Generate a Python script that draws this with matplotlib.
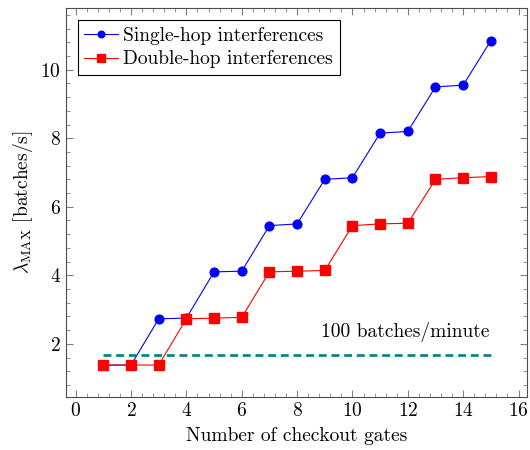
import numpy as np
import matplotlib
matplotlib.use("Agg")
import matplotlib.pyplot as plt
from matplotlib.ticker import MultipleLocator

plt.rcParams['font.family'] = 'serif'
plt.rcParams['font.serif'] = ['cmr10']
plt.rcParams['mathtext.fontset'] = 'cm'
plt.rcParams['axes.formatter.use_mathtext'] = True

# data
gates = [1, 2, 3, 4, 5, 6, 7, 8, 9, 10, 11, 12, 13, 14, 15]
single_hop = [1.38, 1.38, 2.73, 2.75, 4.10, 4.12, 5.45, 5.50, 6.80, 6.85,
              8.15, 8.20, 9.50, 9.55, 10.85]
double_hop = [1.38, 1.38, 1.38, 2.73, 2.75, 2.77, 4.10, 4.12, 4.14, 5.45,
              5.50, 5.52, 6.80, 6.85, 6.88]
threshold_x = [1, 15]
threshold_y = [1.67, 1.67]

fig = plt.figure(figsize=(5.3, 4.5), dpi=100)
ax = fig.add_axes([0.1245, 0.118, 0.8695, 0.864])

ax.plot(gates, single_hop, color='blue', marker='o', markersize=6.3,
        linewidth=0.8, label='Single-hop interferences')
ax.plot(gates, double_hop, color='red', marker='s', markersize=6.8,
        linewidth=0.8, label='Double-hop interferences')
ax.plot(threshold_x, threshold_y, color=(0, 0.5, 0.5), linestyle=(0, (3, 1.8)),
        linewidth=1.9)
ax.text(8.85, 2.33, '100 batches/minute', fontsize=14, va='center')

ax.set_xlim(-0.35, 16.3)
ax.set_ylim(0.45, 11.8)
ax.xaxis.set_major_locator(MultipleLocator(2))
ax.xaxis.set_minor_locator(MultipleLocator(0.4))
ax.yaxis.set_major_locator(MultipleLocator(2))
ax.yaxis.set_minor_locator(MultipleLocator(0.4))
ax.tick_params(which='both', direction='in', top=True, right=True,
               color='0.5', labelsize=14)
ax.tick_params(which='major', length=5)
ax.tick_params(which='minor', length=3)
for s in ax.spines.values():
    s.set_color('0.3')

ax.set_xlabel('Number of checkout gates', fontsize=14, labelpad=5)
ax.set_ylabel(r'$\lambda_{\mathrm{MAX}}$ [batches/s]', fontsize=14)

leg = ax.legend(loc='upper left', fontsize=14, fancybox=False,
                edgecolor='black', framealpha=1, handlelength=1.7,
                borderaxespad=0.6, handletextpad=0.3, labelspacing=0.3,
                borderpad=0.35, markerscale=0.75)
leg.get_frame().set_linewidth(0.8)

fig.savefig('out.png', dpi=100)
